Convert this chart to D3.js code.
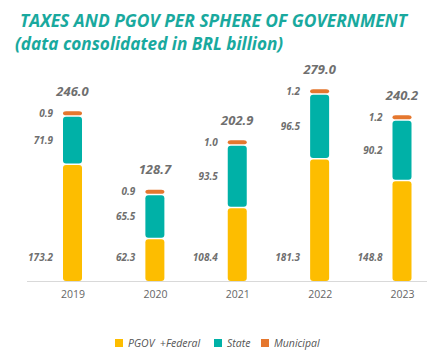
<!DOCTYPE html>
<html><head><meta charset="utf-8">
<script src="https://cdn.jsdelivr.net/npm/d3@7"></script>
<style>
body{margin:0;background:#fff;}
svg{display:block;}
text{font-family:"Open Sans",sans-serif;}
</style></head>
<body>
<svg id="chart" width="436" height="355"></svg>
<script>
const years = ["2019","2020","2021","2022","2023"];
const federal = [173.2, 62.3, 108.4, 181.3, 148.8];
const state = [71.9, 65.5, 93.5, 96.5, 90.2];
const municipal = [0.9, 0.9, 1.0, 1.2, 1.2];
const totals = [246.0, 128.7, 202.9, 279.0, 240.2];
const seriesKeys = ["federal","state","municipal"];
const seriesNames = ["PGOV  +Federal","State","Municipal"];
const colors = ["#FDBD00","#00B1A7","#E5772E"];

const rows = years.map((y,i)=>({year:y, federal:federal[i], state:state[i], municipal:municipal[i], total:totals[i]}));

const svg = d3.select("#chart");
const x = d3.scalePoint().domain(years).range([72.5, 402]);
const y = d3.scaleLinear().domain([0, 300]).range([281, 80]);
const barW = 19, gap = 1.5, minH = 4;
const labelColor = "#6f6f6f";

// title
svg.append("text").attr("x",20).attr("y",27).attr("fill","#19A99E")
  .attr("font-size",17.4).attr("font-weight",700).attr("font-style","italic")
  .text("TAXES AND PGOV PER SPHERE OF GOVERNMENT");
svg.append("text").attr("x",15).attr("y",50).attr("fill","#19A99E")
  .attr("font-size",17.2).attr("font-weight",700).attr("font-style","italic")
  .text("(data consolidated in BRL billion)");

// baseline
svg.append("line").attr("x1",27).attr("x2",427).attr("y1",y(0)+0.5).attr("y2",y(0)+0.5)
  .attr("stroke","#d9d9d9").attr("stroke-width",1);

const stack = d3.stack().keys(seriesKeys)(rows);

const g = svg.append("g");
stack.forEach((layer, li)=>{
  layer.forEach((d, i)=>{
    const cx = x(years[i]);
    let top = y(d[1]);
    let bottom = y(d[0]) - (li>0 ? gap : 0);
    if (bottom - top < minH) top = bottom - minH;
    g.append("rect")
      .attr("x", cx - barW/2).attr("y", top)
      .attr("width", barW).attr("height", bottom - top)
      .attr("rx", 3).attr("ry", 3)
      .attr("fill", colors[li]);
    let ly;
    if (li === 0) ly = y(0) - 24;
    else ly = (top + bottom)/2;
    g.append("text")
      .attr("x", cx - barW/2 - 10).attr("y", ly).attr("dy","0.35em")
      .attr("text-anchor","end").attr("fill", labelColor)
      .attr("font-size", 10).attr("font-weight",700).attr("font-style","italic")
      .text(d.data[seriesKeys[li]].toFixed(1));
  });
});

// totals
rows.forEach((d,i)=>{
  const top = Math.min(y(d.total), y(d.federal+d.state) - gap - minH);
  svg.append("text")
    .attr("x", x(d.year)).attr("y", top - 20).attr("dy","0.35em")
    .attr("text-anchor","middle").attr("fill", labelColor)
    .attr("font-size", 13).attr("font-weight",700).attr("font-style","italic")
    .text(d.total.toFixed(1));
});

// x axis labels
const axis = svg.append("g").attr("transform",`translate(0,${y(0)})`)
  .call(d3.axisBottom(x).tickSize(0).tickPadding(10));
axis.select(".domain").remove();
axis.selectAll("text").attr("fill","#666").attr("font-size",10.5)
  .attr("font-family","'Open Sans',sans-serif");

// legend
const legendX = [115, 214, 261];
const lg = svg.append("g");
seriesNames.forEach((n,i)=>{
  lg.append("rect").attr("x",legendX[i]).attr("y",339).attr("width",8).attr("height",8).attr("fill",colors[i]);
  lg.append("text").attr("x",legendX[i]+13).attr("y",343).attr("dy","0.35em")
    .attr("fill","#555").attr("font-size",10.5).attr("font-style","italic")
    .style("white-space","pre")
    .text(n);
});
</script>
</body></html>
